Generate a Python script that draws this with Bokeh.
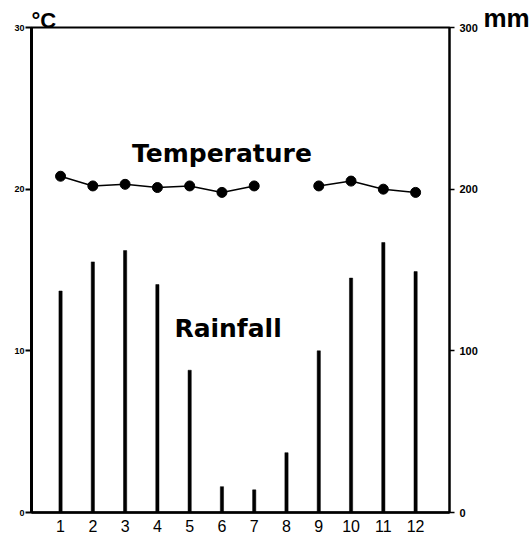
import math
from bokeh.plotting import figure
from bokeh.models import Range1d, LinearAxis, FixedTicker, Label, ColumnDataSource
from bokeh.embed import file_html
from bokeh.resources import INLINE

# ---- data ----
months = [1, 2, 3, 4, 5, 6, 7, 8, 9, 10, 11, 12]
rainfall_mm = [137, 155, 162, 141, 88, 16, 14, 37, 100, 145, 167, 149]
temperature_c = [20.8, 20.2, 20.3, 20.1, 20.2, 19.8, 20.2, float("nan"), 20.2, 20.5, 20.0, 19.8]
temp_ticks = [0, 10, 20, 30]
rain_ticks = [0, 100, 200, 300]

src = ColumnDataSource(dict(month=months, rain=rainfall_mm, temp=temperature_c))

p = figure(width=532, height=538, output_backend="svg", toolbar_location=None,
           x_range=Range1d(0.1, 13.05), y_range=Range1d(0, 30),
           min_border_left=31, min_border_right=83, min_border_top=27, min_border_bottom=26)
p.extra_y_ranges = {"rain": Range1d(0, 300)}
p.xgrid.visible = False
p.ygrid.visible = False
p.background_fill_color = "white"
p.border_fill_color = "white"
p.outline_line_color = "black"
p.outline_line_width = 2

# rainfall bars
p.vbar(x="month", top="rain", bottom=0, width=0.1, source=src, y_range_name="rain",
       fill_color="black", line_color="black", line_width=0.5)

# temperature line with markers
p.line(x="month", y="temp", source=src, line_color="black", line_width=1.5)
p.scatter(x="month", y="temp", source=src, size=10, fill_color="black", line_color="black")

# axes styling
xa = p.xaxis[0]
xa.ticker = FixedTicker(ticks=months)
xa.axis_line_width = 2.5
xa.axis_line_color = "black"
xa.major_tick_line_color = None
xa.major_tick_out = 0
xa.major_tick_in = 0
xa.minor_tick_line_color = None
xa.major_label_standoff = 7
xa.major_label_text_font = "Liberation Sans"
xa.major_label_text_font_size = "16px"
xa.major_label_text_color = "black"

ya = p.yaxis[0]
ya.ticker = FixedTicker(ticks=temp_ticks)
ya.axis_line_width = 3
ya.axis_line_color = "black"
ya.major_tick_line_width = 2
ya.major_tick_out = 6
ya.major_tick_in = 0
ya.minor_tick_line_color = None
ya.major_label_standoff = 1
ya.major_label_text_font = "Liberation Sans"
ya.major_label_text_font_style = "bold"
ya.major_label_text_font_size = "9px"
ya.major_label_text_color = "black"

ra = LinearAxis(y_range_name="rain", ticker=FixedTicker(ticks=rain_ticks))
ra.axis_line_width = 2
ra.axis_line_color = "black"
ra.major_tick_line_width = 1.5
ra.major_tick_out = 5
ra.major_tick_in = 0
ra.minor_tick_line_color = None
ra.major_label_standoff = 5
ra.major_label_text_font = "Liberation Sans"
ra.major_label_text_font_style = "bold"
ra.major_label_text_font_size = "11px"
ra.major_label_text_color = "black"
ra.major_label_orientation = "horizontal"
p.add_layout(ra, "right")

# text annotations inside the frame
p.add_layout(Label(x=6.0, y=22.2, text="Temperature", text_align="center",
                   text_baseline="middle", text_font="DejaVu Sans",
                   text_font_style="bold", text_font_size="25px", text_color="black"))
p.add_layout(Label(x=6.19, y=11.38, text="Rainfall", text_align="center",
                   text_baseline="middle", text_font="DejaVu Sans",
                   text_font_style="bold", text_font_size="25px", text_color="black"))

# unit labels in the side panels (not clipped to the frame)
p.add_layout(Label(x=0, y=7, x_units="screen", y_units="screen", text="°C",
                   text_align="left", text_baseline="middle", text_font="Liberation Sans",
                   text_font_style="bold", text_font_size="22px", text_color="black"), "above")
p.add_layout(Label(x=3, y=495, x_units="screen", y_units="screen", text="mm",
                   text_align="left", text_baseline="middle", text_font="Liberation Sans",
                   text_font_style="bold", text_font_size="26px", text_color="black"), "right")

open("out.html", "w").write(file_html(p, INLINE))
